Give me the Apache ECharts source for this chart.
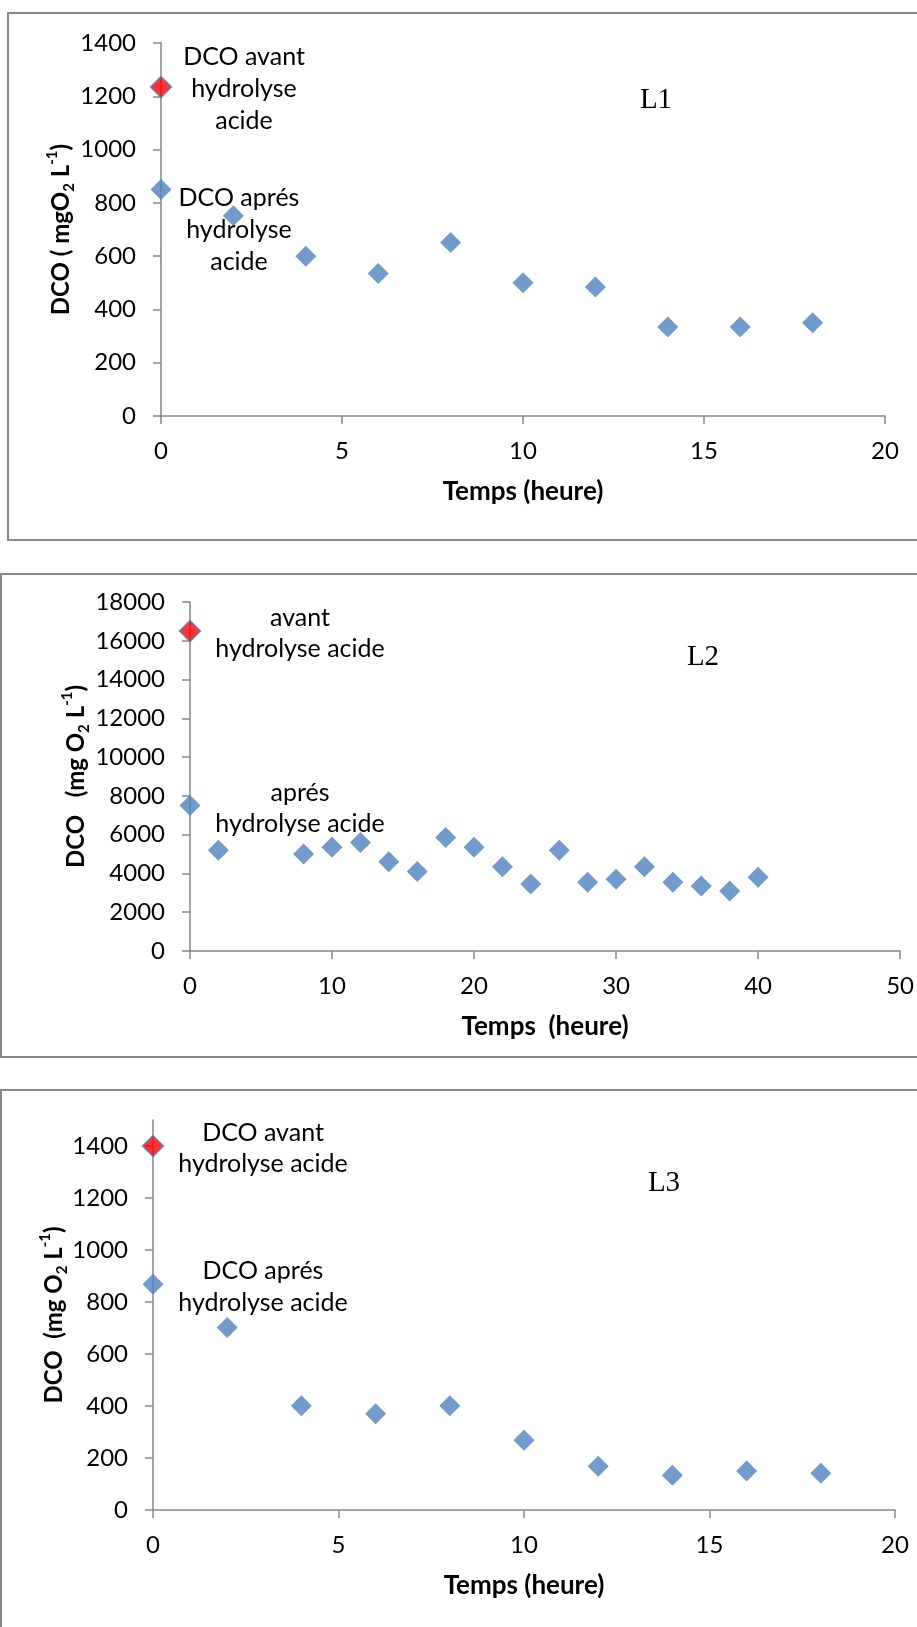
<!DOCTYPE html>
<html>
<head>
<meta charset="utf-8">
<script src="https://cdn.jsdelivr.net/npm/echarts@6/dist/echarts.min.js"></script>
<style>
  html, body { margin: 0; padding: 0; background: #fff; }
  #chart { width: 917px; height: 1627px; }
</style>
</head>
<body>
<div id="chart"></div>
<script>
// L1
const heuresL1 = [0, 2, 4, 6, 8, 10, 12, 14, 16, 18];
const dcoL1 = [850, 752, 600, 535, 651, 500, 484, 334, 334, 350];
// L2
const heuresL2 = [0, 2, 8, 10, 12, 14, 16, 18, 20, 22, 24, 26, 28, 30, 32, 34, 36, 38, 40];
const dcoL2 = [7500, 5200, 5000, 5350, 5600, 4600, 4100, 5850, 5350, 4350, 3450, 5200, 3550, 3700, 4350, 3550, 3350, 3100, 3800];
// L3
const heuresL3 = [0, 2, 4, 6, 8, 10, 12, 14, 16, 18];
const dcoL3 = [868, 702, 401, 370, 401, 268, 168, 134, 150, 141];
// DCO avant hydrolyse acide (L1, L2, L3)
const avantHeure = [0, 0, 0];
const avantDco = [1235, 16500, 1400];
// graduations L3
const yTicksL3 = [0, 200, 400, 600, 800, 1000, 1200, 1400];

const BLUE = '#4F81BD';
const AXIS = '#868686';
const FONT = 'Lato';

const chart = echarts.init(document.getElementById('chart'));

function pairs(xs, ys) {
  return xs.map((x, i) => [x, ys[i]]);
}

function yName(prefix, mid) {
  return '{b|' + prefix + '}{sub|2}{b|' + mid + '}{sup|-1}{b|)}';
}

const nameRich = {
  b: { fontFamily: FONT, fontWeight: 'bold', fontSize: 24, lineHeight: 32, color: '#000' },
  sub: { fontFamily: FONT, fontWeight: 'bold', fontSize: 15, lineHeight: 15, verticalAlign: 'bottom', color: '#000' },
  sup: { fontFamily: FONT, fontWeight: 'bold', fontSize: 15, lineHeight: 15, verticalAlign: 'top', color: '#000' }
};

const plain = v => String(v);

function xAxis(gridIndex, max, interval, name) {
  return {
    type: 'value', gridIndex: gridIndex, min: 0, max: max, interval: interval,
    name: name, nameLocation: 'middle', nameGap: 63, nameMoveOverlap: false,
    nameTextStyle: { fontFamily: FONT, fontWeight: 'bold', fontSize: 26, color: '#000' },
    axisLine: { onZero: false, lineStyle: { color: AXIS, width: 1.5 } },
    axisTick: { length: 8, lineStyle: { color: AXIS, width: 1.5 } },
    axisLabel: { margin: 23, fontFamily: FONT, fontSize: 24, color: '#000', formatter: plain },
    splitLine: { show: false }
  };
}

function yAxis(gridIndex, max, interval, name, gap) {
  return {
    type: 'value', gridIndex: gridIndex, min: 0, max: max, interval: interval,
    name: name, nameLocation: 'middle', nameGap: gap, nameRotate: 90, nameMoveOverlap: false,
    nameTextStyle: { rich: nameRich },
    axisLine: { show: true, onZero: false, lineStyle: { color: AXIS, width: 1.5 } },
    axisTick: { show: true, length: 8, lineStyle: { color: AXIS, width: 1.5 } },
    axisLabel: { margin: 25, fontFamily: FONT, fontSize: 24, color: '#000', formatter: plain },
    splitLine: { show: false }
  };
}

function blueSeries(i, xs, ys) {
  return {
    type: 'scatter', xAxisIndex: i, yAxisIndex: i,
    symbol: 'diamond', symbolSize: 21,
    itemStyle: { color: BLUE },
    data: pairs(xs, ys)
  };
}

function redSeries(i) {
  return {
    type: 'scatter', xAxisIndex: i, yAxisIndex: i,
    symbol: 'diamond', symbolSize: 21,
    itemStyle: { color: '#FF0000', borderColor: BLUE, borderWidth: 1.5 },
    data: [[avantHeure[i], avantDco[i]]]
  };
}

const y3 = yAxis(2, 1500, 200, yName('DCO  (mg O', ' L'), 83);
y3.axisTick.customValues = yTicksL3;
y3.axisLabel.customValues = yTicksL3;

function note(text, x, y, lh) {
  return {
    type: 'text', x: x, y: y, silent: true,
    style: {
      text: text, fontFamily: FONT, fontSize: 25, lineHeight: lh,
      fill: '#000', align: 'center', verticalAlign: 'middle'
    }
  };
}

function tag(text, x, y) {
  return {
    type: 'text', x: x, y: y, silent: true,
    style: {
      text: text, fontFamily: 'Liberation Serif', fontSize: 29,
      fill: '#000', align: 'center', verticalAlign: 'middle'
    }
  };
}

function frame(x, y, w, h) {
  return {
    type: 'rect', silent: true, z: -10,
    shape: { x: x, y: y, width: w, height: h },
    style: { fill: 'none', stroke: '#888', lineWidth: 2 }
  };
}

const option = {
  animation: false,
  backgroundColor: '#fff',
  grid: [
    { left: 161, top: 43, width: 724, height: 373 },
    { left: 190, top: 602, width: 714, height: 349 },
    { left: 153, top: 1120, width: 742, height: 390 }
  ],
  xAxis: [
    xAxis(0, 20, 5, 'Temps (heure)'),
    xAxis(1, 50, 10, 'Temps  (heure)'),
    xAxis(2, 20, 5, 'Temps (heure)')
  ],
  yAxis: [
    yAxis(0, 1400, 200, yName('DCO ( mgO', ' L'), 84),
    yAxis(1, 18000, 2000, yName('DCO   (mg O', ' L'), 98),
    y3
  ],
  series: [
    blueSeries(0, heuresL1, dcoL1), redSeries(0),
    blueSeries(1, heuresL2, dcoL2), redSeries(1),
    blueSeries(2, heuresL3, dcoL3), redSeries(2)
  ],
  graphic: [
    frame(8, 13, 1000, 527),
    frame(1, 574, 1000, 483),
    frame(1, 1090, 1000, 1000),
    note('DCO avant\nhydrolyse\nacide', 244, 89, 32),
    note('DCO aprés\nhydrolyse\nacide', 239, 230, 32),
    note('avant\nhydrolyse acide', 300, 633, 31),
    note('aprés\nhydrolyse acide', 300, 808, 31),
    note('DCO avant\nhydrolyse acide', 263, 1148, 31),
    note('DCO aprés\nhydrolyse acide', 263, 1287, 32),
    tag('L1', 656, 100),
    tag('L2', 703, 657),
    tag('L3', 664, 1183)
  ]
};

chart.setOption(option);
</script>
</body>
</html>
